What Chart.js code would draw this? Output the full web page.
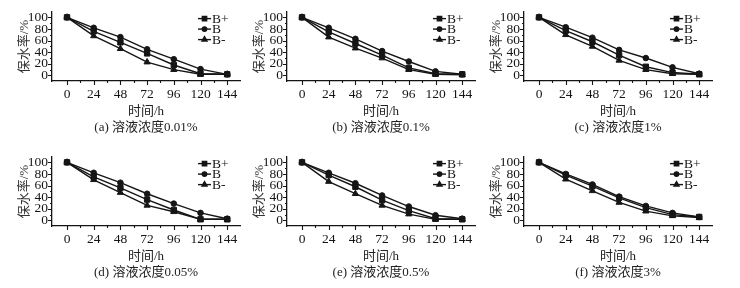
<!DOCTYPE html>
<html>
<head>
<meta charset="utf-8">
<script src="https://cdn.jsdelivr.net/npm/chart.js@4/dist/chart.umd.min.js"></script>
<style>
  html, body { margin: 0; padding: 0; background: #fff; }
  #wrap { position: relative; width: 740px; height: 288px; overflow: hidden; background: #fff; }
  #wrap canvas { position: absolute; }
</style>
</head>
<body>
<div id="wrap"></div>
<script>
// ---- data ----
const timeH = [0, 24, 48, 72, 96, 120, 144];
const xTickValues = [0, 24, 48, 72, 96, 120, 144];
const yTickValues = [0, 20, 40, 60, 80, 100];
const seriesNames = ['B+', 'B', 'B-'];
const xTitle = '时间/h';
const yTitle = '保水率/%';
const captions = ['(a) 溶液浓度0.01%', '(b) 溶液浓度0.1%', '(c) 溶液浓度1%',
                  '(d) 溶液浓度0.05%', '(e) 溶液浓度0.5%', '(f) 溶液浓度3%'];

const a_Bplus  = [100, 76, 57, 38, 18, 3, 2];
const a_B      = [100, 82, 66, 45, 28, 11, 2];
const a_Bminus = [100, 68, 46, 23, 10, 2, 2];

const b_Bplus  = [100, 75, 55, 35, 13, 3, 2];
const b_B      = [100, 82, 63, 42, 24, 7, 2];
const b_Bminus = [100, 66, 47, 30, 10, 2, 1];

const c_Bplus  = [100, 77, 58, 35, 15, 5, 2];
const c_B      = [100, 83, 65, 44, 30, 14, 3];
const c_Bminus = [100, 70, 50, 26, 10, 3, 2];

const d_Bplus  = [100, 75, 56, 36, 18, 2, 2];
const d_B      = [100, 82, 65, 46, 29, 13, 3];
const d_Bminus = [100, 70, 48, 26, 15, 2, 2];

const e_Bplus  = [100, 78, 58, 35, 17, 3, 2];
const e_B      = [100, 82, 64, 43, 24, 9, 3];
const e_Bminus = [100, 67, 46, 26, 11, 2, 2];

const f_Bplus  = [100, 78, 59, 39, 22, 10, 6];
const f_B      = [100, 80, 62, 41, 25, 13, 6];
const f_Bminus = [100, 71, 51, 31, 16, 8, 5];

const panelSeries = [
  [a_Bplus, a_B, a_Bminus],
  [b_Bplus, b_B, b_Bminus],
  [c_Bplus, c_B, c_Bminus],
  [d_Bplus, d_B, d_Bminus],
  [e_Bplus, e_B, e_Bminus],
  [f_Bplus, f_B, f_Bminus]
];

// ---- styling / layout ----
const INK = '#151515';
const FONT = '"Liberation Serif", "Noto Sans CJK SC", serif';
const pointStyles = ['rect', 'circle', 'triangle'];
const pointRadii = [3.8, 2.8, 3.6];
const panelLeft = [0, 235, 472];
const panelTop = [0, 145];
const CW = 245, CH = 140;

const axisTicksPlugin = {
  id: 'axisTicks',
  afterDraw(chart) {
    const {ctx} = chart;
    const xs = chart.scales.x, ys = chart.scales.y;
    ctx.save();
    ctx.strokeStyle = INK;
    ctx.lineWidth = 1.1;
    ctx.beginPath();
    for (let v = 0; v <= 144; v += 12) {
      const px = Math.round(xs.getPixelForValue(v)) + 0.5;
      const len = (v % 24 === 0) ? 4 : 2;
      ctx.moveTo(px, ys.bottom);
      ctx.lineTo(px, ys.bottom + len);
    }
    for (let v = 0; v <= 100; v += 10) {
      const py = Math.round(ys.getPixelForValue(v)) + 0.5;
      const len = (v % 20 === 0) ? 4 : 2;
      ctx.moveTo(xs.left, py);
      ctx.lineTo(xs.left - len, py);
    }
    ctx.stroke();
    ctx.restore();
  }
};

const innerLegendPlugin = {
  id: 'innerLegend',
  afterDraw(chart) {
    const {ctx, chartArea} = chart;
    const x0 = chartArea.right - 42;
    chart.data.datasets.forEach((ds, i) => {
      const y = chartArea.top + 6.5 + i * 10.5;
      ctx.save();
      ctx.strokeStyle = ds.borderColor;
      ctx.fillStyle = ds.backgroundColor;
      ctx.lineWidth = 1.4;
      ctx.beginPath();
      ctx.moveTo(x0, y);
      ctx.lineTo(x0 + 13, y);
      ctx.stroke();
      Chart.helpers.drawPoint(ctx, {pointStyle: ds.pointStyle, radius: ds.pointRadius * 0.8, borderWidth: 1, rotation: 0}, x0 + 6.5, y);
      ctx.fillStyle = INK;
      ctx.font = '13.5px ' + FONT;
      ctx.textBaseline = 'middle';
      ctx.textAlign = 'left';
      ctx.fillText(ds.label, x0 + 14, y + 0.5);
      ctx.restore();
    });
  }
};

const wrap = document.getElementById('wrap');
panelSeries.forEach((series, p) => {
  const cv = document.createElement('canvas');
  cv.width = CW; cv.height = CH;
  cv.style.left = panelLeft[p % 3] + 'px';
  cv.style.top = panelTop[Math.floor(p / 3)] + 'px';
  cv.style.width = CW + 'px'; cv.style.height = CH + 'px';
  wrap.appendChild(cv);

  const datasets = series.map((vals, i) => ({
    label: seriesNames[i],
    data: timeH.map((t, k) => ({x: t, y: vals[k]})),
    borderColor: INK,
    backgroundColor: INK,
    borderWidth: 1.4,
    pointStyle: pointStyles[i],
    pointRadius: pointRadii[i],
    pointBorderWidth: 1,
    tension: 0,
    fill: false
  }));

  new Chart(cv, {
    type: 'line',
    data: {datasets},
    options: {
      responsive: false,
      animation: false,
      devicePixelRatio: 1,
      layout: {padding: {top: 9, left: 0, right: 5, bottom: 0}},
      plugins: {
        legend: {display: false},
        title: {display: false},
        tooltip: {enabled: false}
      },
      scales: {
        x: {
          type: 'linear',
          min: -13.5, max: 155.5,
          afterBuildTicks: s => { s.ticks = xTickValues.map(v => ({value: v})); },
          afterFit: s => { s.height = 59; },
          grid: {display: false, drawTicks: false, tickLength: 0},
          border: {display: true, color: INK, width: 1.3},
          ticks: {color: INK, font: {family: FONT, size: 13.5}, padding: 5, maxRotation: 0, autoSkip: false},
          title: {display: true, text: [xTitle, captions[p]], color: '#222',
                  font: {family: FONT, size: 13, lineHeight: '16px'}, padding: {top: 0, bottom: 4}}
        },
        y: {
          min: -9.5, max: 109,
          afterBuildTicks: s => { s.ticks = yTickValues.map(v => ({value: v})); },
          afterFit: s => { s.width = 52; },
          grid: {display: false, drawTicks: false, tickLength: 0},
          border: {display: true, color: INK, width: 1.3},
          ticks: {color: INK, font: {family: FONT, size: 13.5}, padding: 4, autoSkip: false},
          title: {display: true, text: yTitle, color: '#333',
                  font: {family: FONT, size: 13, lineHeight: '16px'}, padding: {top: 17, bottom: 0}}
        }
      }
    },
    plugins: [axisTicksPlugin, innerLegendPlugin]
  });
});
</script>
</body>
</html>
